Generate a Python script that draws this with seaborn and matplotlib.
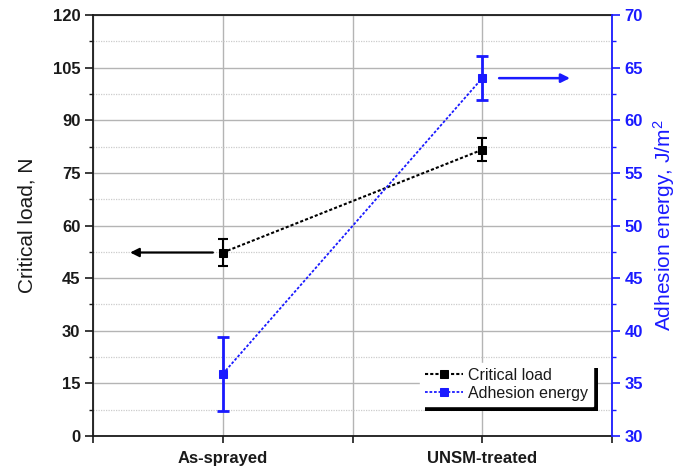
import numpy as np
import pandas as pd
import matplotlib
matplotlib.use("Agg")
import matplotlib.pyplot as plt
import matplotlib.patheffects as pe
from matplotlib.ticker import FixedLocator, MultipleLocator
import seaborn as sns

# Samples and measured values (mean and standard deviation)
categories = ["As-sprayed", "UNSM-treated"]
critical_load = [52.3, 81.6]          # N
critical_load_err = [3.8, 3.2]
adhesion_energy = [35.9, 64.0]        # J/m^2
adhesion_energy_err = [3.5, 2.1]

left_ticks = [0, 15, 30, 45, 60, 75, 90, 105, 120]
right_ticks = [30, 35, 40, 45, 50, 55, 60, 65, 70]

sns.set_theme(style="white")
plt.rcParams["font.family"] = ["Liberation Sans", "DejaVu Sans"]
plt.rcParams["mathtext.fontset"] = "custom"
plt.rcParams["mathtext.rm"] = "Liberation Sans"
plt.rcParams["mathtext.it"] = "Liberation Sans:italic"
plt.rcParams["mathtext.bf"] = "Liberation Sans:bold"

BLUE = "#1a1aff"
DARK = "#1a1a1a"

pos = np.arange(1, len(categories) + 1)
df = pd.DataFrame({"pos": pos, "load": critical_load, "energy": adhesion_energy})

fig = plt.figure(figsize=(6.78, 4.67), dpi=100)
ax = fig.add_axes([93 / 678, 31 / 467, 519 / 678, 421 / 467])
ax2 = ax.twinx()

# Critical load on the left axis
sns.lineplot(data=df, x="pos", y="load", ax=ax, color="black", marker="s",
             markersize=5.6, markeredgecolor="black", linestyle=(0, (1.5, 1.0)),
             linewidth=1.5, label="Critical load", legend=False, zorder=4)
ax.errorbar(pos, critical_load, yerr=critical_load_err, fmt="none",
            ecolor="black", elinewidth=1.5, capsize=3.6, capthick=1.5, zorder=4)

# Adhesion energy on the right axis
sns.lineplot(data=df, x="pos", y="energy", ax=ax2, color=BLUE, marker="s",
             markersize=5.8, markeredgecolor=BLUE, linestyle=(0, (1.5, 1.0)),
             linewidth=1.3, label="Adhesion energy", legend=False, zorder=4)
ax2.errorbar(pos, adhesion_energy, yerr=adhesion_energy_err, fmt="none",
             ecolor=BLUE, elinewidth=2, capsize=4.3, capthick=2, zorder=4)

# Arrows pointing to the axis each series belongs to
ax.annotate("", xy=(0.643, critical_load[0]), xytext=(0.962, critical_load[0]),
            arrowprops=dict(arrowstyle="-|>", color="black", lw=1.6,
                            mutation_scale=13, shrinkA=0, shrinkB=0))
ax2.annotate("", xy=(2.338, adhesion_energy[1]), xytext=(2.065, adhesion_energy[1]),
             arrowprops=dict(arrowstyle="-|>", color=BLUE, lw=1.8,
                             mutation_scale=13, shrinkA=0, shrinkB=0))

# Axis ranges and ticks
ax.set_xlim(0.5, 2.5)
ax.set_ylim(0, 120)
ax2.set_ylim(30, 70)

ax.xaxis.set_major_locator(FixedLocator([0.5, 1, 1.5, 2, 2.5]))
ax.set_xticklabels(["", categories[0], "", categories[1], ""],
                   fontsize=12, fontweight="bold", color=DARK)
ax.set_yticks(left_ticks)
ax.set_yticklabels([str(t) for t in left_ticks], fontsize=12,
                   fontweight="bold", color=DARK)
ax.yaxis.set_minor_locator(MultipleLocator(7.5))
ax2.set_yticks(right_ticks)
ax2.set_yticklabels([str(t) for t in right_ticks], fontsize=12,
                    fontweight="bold", color=BLUE)
ax2.yaxis.set_minor_locator(MultipleLocator(2.5))

ax.tick_params(axis="x", which="major", direction="out", length=5, width=1.2,
               color=DARK, pad=6, bottom=True)
ax.tick_params(axis="y", which="major", direction="out", length=6, width=1.2,
               color=DARK, pad=3, left=True)
ax.tick_params(axis="y", which="minor", direction="out", length=3, width=1.0,
               color=DARK, left=True)
ax2.tick_params(axis="y", which="major", direction="out", length=6, width=1.2,
                color=BLUE, pad=3, right=True)
ax2.tick_params(axis="y", which="minor", direction="out", length=3, width=1.0,
                color=BLUE, right=True)

ax.set_xlabel("")
ax.set_ylabel("Critical load, N", fontsize=15, color=DARK, labelpad=12)
ax2.set_ylabel("Adhesion energy, J/m$^2$", fontsize=15, color=BLUE, labelpad=6)

# Grid
ax.set_axisbelow(True)
ax.grid(False)
ax2.grid(False)
ax.yaxis.grid(True, which="major", color="#b4b4b4", linewidth=1.0, linestyle="-")
ax.yaxis.grid(True, which="minor", color="#cccccc", linewidth=0.9, linestyle=(0, (1, 1)))
ax.xaxis.grid(True, which="major", color="#b4b4b4", linewidth=1.0, linestyle="-")

for side in ["left", "top", "bottom"]:
    ax.spines[side].set_color(DARK)
    ax.spines[side].set_linewidth(1.3)
ax2.spines["right"].set_color(BLUE)
ax2.spines["right"].set_linewidth(1.3)
for side in ["left", "top", "bottom"]:
    ax2.spines[side].set_visible(False)
ax.spines["right"].set_visible(False)

# Legend with a solid drop shadow
h1, l1 = ax.get_legend_handles_labels()
h2, l2 = ax2.get_legend_handles_labels()
leg = ax2.legend(h1 + h2, l1 + l2, loc="lower right",
                 bbox_to_anchor=(0.963, 0.072), borderaxespad=0,
                 fontsize=11.5, frameon=True, fancybox=False,
                 handlelength=2.4, handletextpad=0.3, borderpad=0.3,
                 labelspacing=0.2, markerscale=1.0)
frame = leg.get_frame()
frame.set_facecolor("white")
frame.set_edgecolor("white")
frame.set_alpha(1)
frame.set_path_effects([pe.SimplePatchShadow(offset=(3.5, -3.5),
                                             shadow_rgbFace="black", alpha=1.0),
                        pe.Normal()])
for txt in leg.get_texts():
    txt.set_color(DARK)

fig.savefig("out.png", dpi=100)
